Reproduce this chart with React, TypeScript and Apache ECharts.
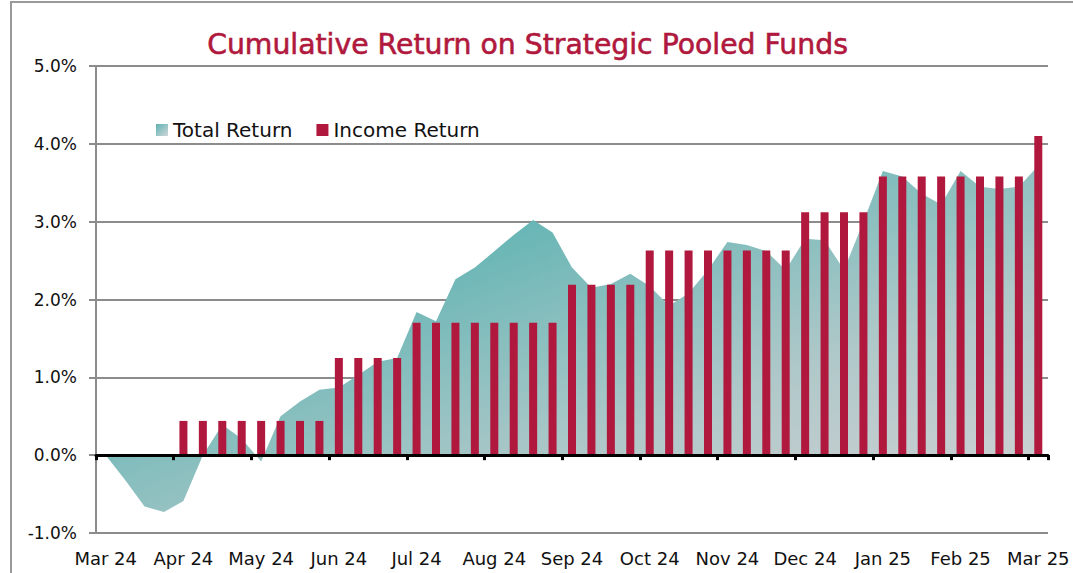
import React, { useEffect, useRef } from "react";
import * as echarts from "echarts";

const months = ["Mar 24", "Apr 24", "May 24", "Jun 24", "Jul 24", "Aug 24", "Sep 24", "Oct 24", "Nov 24", "Dec 24", "Jan 25", "Feb 25", "Mar 25"];
const weeksPerMonth = ["W1", "W2", "W3", "W4"];

const totalReturn = [
  0.0, -0.32, -0.66, -0.73, -0.59, 0.0, 0.39, 0.21,
  -0.08, 0.5, 0.69, 0.84, 0.87, 1.03, 1.2, 1.25,
  1.84, 1.72, 2.26, 2.41, 2.62, 2.83, 3.02, 2.86,
  2.41, 2.15, 2.2, 2.33, 2.17, 1.92, 2.08, 2.38,
  2.74, 2.7, 2.62, 2.38, 2.78, 2.76, 2.38, 3.0,
  3.65, 3.58, 3.36, 3.22, 3.65, 3.45, 3.42, 3.45,
  3.72,
];

const incomeReturn = [
  null, null, null, null, 0.44, 0.44, 0.44, 0.44,
  0.44, 0.44, 0.44, 0.44, 1.25, 1.25, 1.25, 1.25,
  1.7, 1.7, 1.7, 1.7, 1.7, 1.7, 1.7, 1.7,
  2.19, 2.19, 2.19, 2.19, 2.63, 2.63, 2.63, 2.63,
  2.63, 2.63, 2.63, 2.63, 3.12, 3.12, 3.12, 3.12,
  3.58, 3.58, 3.58, 3.58, 3.58, 3.58, 3.58, 3.58,
  4.1,
];

const categories = months
  .flatMap((m) => weeksPerMonth.map((w) => `${m} ${w}`))
  .slice(0, totalReturn.length);

const FONT = "DejaVu Sans";
const CRIMSON = "#B0183D";

export default function App() {
  const ref = useRef<HTMLDivElement>(null);

  useEffect(() => {
    if (!ref.current) return;
    const chart = echarts.init(ref.current, null, { renderer: "svg" });

    const areaGradient = new echarts.graphic.LinearGradient(0, 0, 1, 1, [
      { offset: 0, color: "#4FADAD" },
      { offset: 0.3, color: "#66B5B5" },
      { offset: 0.5, color: "#8FC0C0" },
      { offset: 0.67, color: "#B0C8C9" },
      { offset: 0.9, color: "#C8CFD1" },
      { offset: 1, color: "#D2D4D6" },
    ]);
    const legendGradient = new echarts.graphic.LinearGradient(0, 0, 1, 1, [
      { offset: 0, color: "#5DB3B3" },
      { offset: 1, color: "#D2D6D8" },
    ]);

    chart.setOption({
      animation: false,
      backgroundColor: "#ffffff",
      graphic: [
        {
          type: "rect",
          shape: { x: 11, y: 2, width: 1200, height: 700 },
          style: { fill: "none", stroke: "#9a9a9a", lineWidth: 2 },
          silent: true,
          z: -10,
        },
        {
          type: "text",
          x: 527.5,
          y: 44,
          style: {
            text: "Cumulative Return on Strategic Pooled Funds",
            fill: CRIMSON,
            font: `28.3px "${FONT}"`,
            textAlign: "center",
            textVerticalAlign: "middle",
            stroke: CRIMSON,
            lineWidth: 0.6,
          },
        },
      ],
      legend: {
        left: 151,
        top: 115,
        itemWidth: 12,
        itemHeight: 12,
        itemGap: 24,
        icon: "rect",
        textStyle: { fontFamily: FONT, fontSize: 20, color: "#111111" },
        data: [
          { name: "Total Return", itemStyle: { color: legendGradient } },
          { name: "Income Return", itemStyle: { color: CRIMSON } },
        ],
      },
      grid: { left: 96, right: 25, top: 66, bottom: 40, containLabel: false },
      xAxis: [
        {
          type: "category",
          data: categories,
          boundaryGap: true,
          axisLine: { show: true, onZero: true, lineStyle: { color: "#000000", width: 3 } },
          axisTick: {
            show: true,
            interval: (index: number) => index % 4 === 0 && index < categories.length,
            length: 5,
            lineStyle: { color: "#000000", width: 3 },
          },
          axisLabel: { show: false },
          splitLine: { show: false },
          z: 5,
        },
        {
          type: "category",
          data: categories,
          position: "bottom",
          boundaryGap: true,
          axisLine: { show: false, onZero: false },
          axisTick: { show: false },
          axisLabel: {
            show: true,
            interval: 3,
            margin: 16,
            fontFamily: FONT,
            fontSize: 18,
            color: "#111111",
            formatter: (v: string) => v.replace(/ W\d$/, ""),
          },
          splitLine: { show: false },
        },
      ],
      yAxis: {
        type: "value",
        min: -1,
        max: 5,
        interval: 1,
        axisLine: { show: true, lineStyle: { color: "#8c8c8c", width: 2 } },
        axisTick: { show: true, length: 7, lineStyle: { color: "#8c8c8c", width: 2 } },
        axisLabel: {
          margin: 19,
          fontFamily: FONT,
          fontSize: 17,
          color: "#111111",
          formatter: (v: number) => `${v.toFixed(1)}%`,
        },
        splitLine: { show: true, lineStyle: { color: "#8c8c8c", width: 2 } },
      },
      series: [
        {
          name: "Total Return",
          type: "line",
          xAxisIndex: 0,
          data: totalReturn,
          showSymbol: false,
          symbol: "none",
          lineStyle: { width: 0 },
          itemStyle: { color: "#66B5B5" },
          areaStyle: { color: areaGradient, opacity: 1 },
          z: 2,
        },
        {
          name: "Income Return",
          type: "bar",
          xAxisIndex: 0,
          data: incomeReturn,
          barWidth: 8,
          itemStyle: { color: CRIMSON },
          z: 3,
        },
      ],
    });

    return () => chart.dispose();
  }, []);

  return (
    <div
      ref={ref}
      style={{ position: "fixed", left: 0, top: 0, width: 1073, height: 573, background: "#fff" }}
    />
  );
}
